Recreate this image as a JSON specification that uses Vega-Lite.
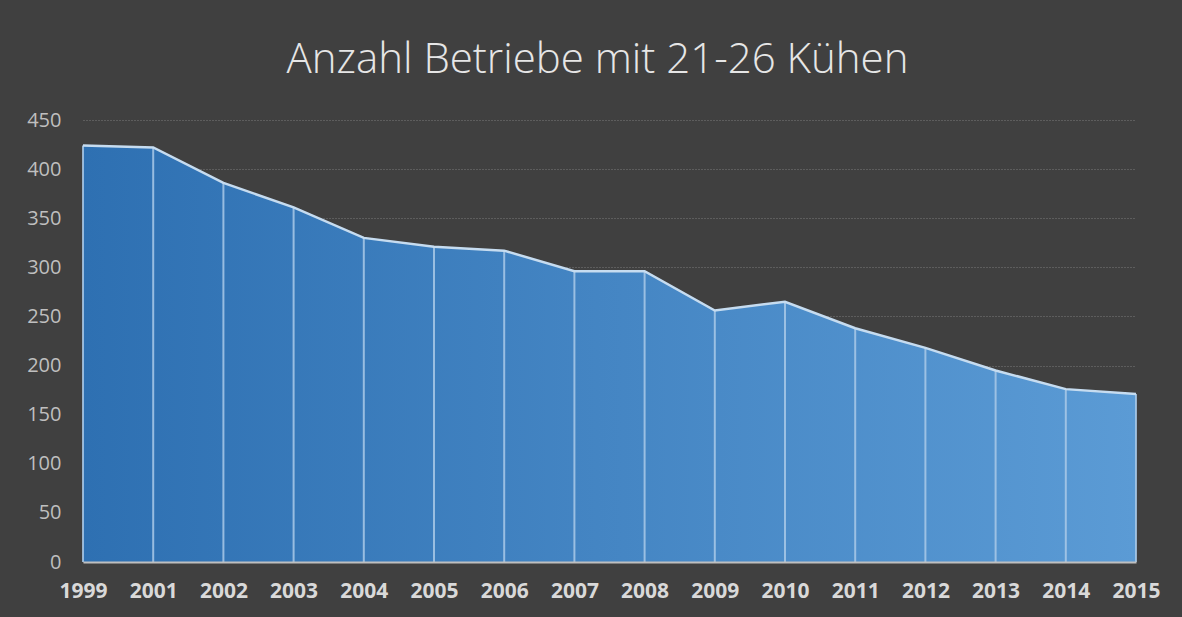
{
  "$schema": "https://vega.github.io/schema/vega-lite/v6.json",
  "autosize": {"type": "none"},
  "width": 1053,
  "height": 442,
  "padding": {"left": 83, "top": 120, "right": 46, "bottom": 55},
  "background": "#404040",
  "title": {
    "text": "Anzahl Betriebe mit 21-26 Kühen",
    "font": "Open Sans",
    "fontSize": 42,
    "fontWeight": 300,
    "color": "#E6E6E6",
    "anchor": "middle",
    "frame": "group",
    "baseline": "alphabetic",
    "offset": -5,
    "dx": -12
  },
  "data": {
    "values": [
      {"Jahr": "1999", "Anzahl": 424},
      {"Jahr": "2001", "Anzahl": 422},
      {"Jahr": "2002", "Anzahl": 386},
      {"Jahr": "2003", "Anzahl": 361},
      {"Jahr": "2004", "Anzahl": 330},
      {"Jahr": "2005", "Anzahl": 321},
      {"Jahr": "2006", "Anzahl": 317},
      {"Jahr": "2007", "Anzahl": 296},
      {"Jahr": "2008", "Anzahl": 296},
      {"Jahr": "2009", "Anzahl": 256},
      {"Jahr": "2010", "Anzahl": 265},
      {"Jahr": "2011", "Anzahl": 238},
      {"Jahr": "2012", "Anzahl": 218},
      {"Jahr": "2013", "Anzahl": 195},
      {"Jahr": "2014", "Anzahl": 176},
      {"Jahr": "2015", "Anzahl": 171}
    ]
  },
  "config": {
    "view": {"stroke": null}
  },
  "encoding": {
    "x": {
      "field": "Jahr",
      "type": "ordinal",
      "scale": {"type": "point", "padding": 0},
      "axis": {
        "title": null,
        "labelAngle": 0,
        "labelFont": "Open Sans",
        "labelFontSize": 21,
        "labelFontWeight": "bold",
        "labelColor": "#D9D9D9",
        "labelPadding": 18,
        "ticks": false,
        "domain": true,
        "domainColor": "#BFBFBF",
        "domainWidth": 2,
        "grid": false,
        "zindex": 1
      }
    },
    "y": {
      "field": "Anzahl",
      "type": "quantitative",
      "scale": {"domain": [0, 450], "nice": false},
      "axis": {
        "title": null,
        "values": [0, 50, 100, 150, 200, 250, 300, 350, 400, 450],
        "labelFont": "Open Sans",
        "labelFontSize": 20,
        "labelColor": "#BFBFBF",
        "labelPadding": 22,
        "ticks": false,
        "domain": false,
        "grid": true,
        "gridColor": "#7A7A7A",
        "gridDash": [1, 2],
        "gridWidth": 1
      }
    }
  },
  "layer": [
    {
      "mark": {
        "type": "area",
        "fill": {
          "gradient": "linear",
          "x1": 0, "y1": 0, "x2": 1, "y2": 0,
          "stops": [
            {"offset": 0, "color": "#2E70B2"},
            {"offset": 1, "color": "#5B9BD5"}
          ]
        }
      }
    },
    {
      "mark": {"type": "rule", "color": "#A9C9E8", "strokeWidth": 2, "opacity": 0.85},
      "encoding": {"y2": {"datum": 0}}
    },
    {
      "mark": {"type": "line", "color": "#C6DCF0", "strokeWidth": 2.5}
    }
  ]
}
